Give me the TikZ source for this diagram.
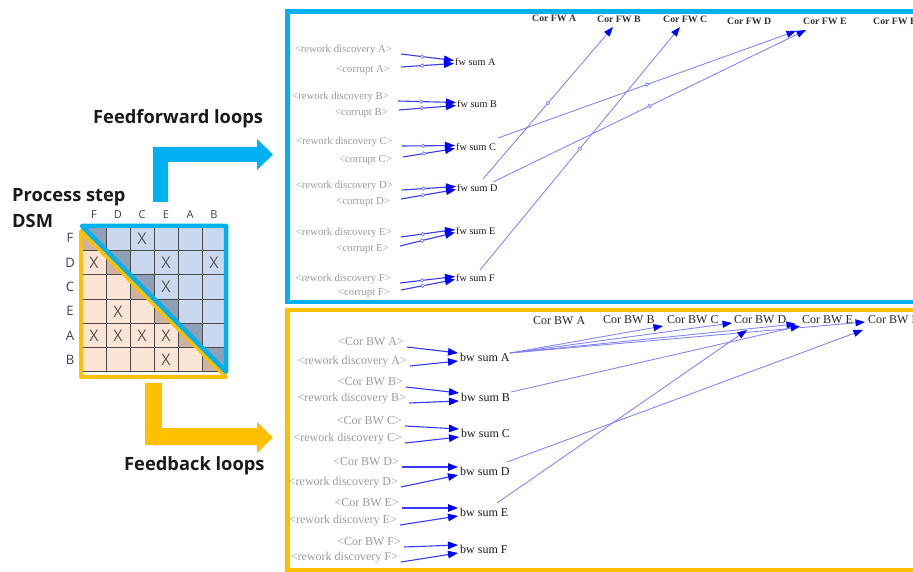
\documentclass[tikz,border=0pt]{standalone}
\usepackage{fontspec}
\setmainfont{Liberation Serif}
\newfontfamily\uisans{Open Sans}
\usetikzlibrary{arrows.meta,calc,decorations.markings}

\definecolor{ffblue}{HTML}{00B0F0}
\definecolor{fbgold}{HTML}{FFC000}
\definecolor{cellblue}{HTML}{C9D8EE}
\definecolor{cellpeach}{HTML}{FCE4D6}
\definecolor{diagblue}{HTML}{8E9FB8}
\definecolor{diagtan}{HTML}{CDB4A2}
\definecolor{gridline}{HTML}{4A4A4A}
\definecolor{linkblue}{HTML}{0000FF}
\definecolor{shadowgray}{HTML}{9A9A9A}

\tikzset{
  title/.style={font=\uisans\bfseries\fontsize{18.3}{21}\selectfont, text=black!90, inner sep=0, anchor=base west},
  dsmlab/.style={font=\uisans\fontsize{13}{15}\selectfont, text=black!75, inner sep=0},
  dsmhead/.style={font=\uisans\fontsize{11}{13}\selectfont, text=black!75, inner sep=0},
  xmark/.style={font=\uisans\fontsize{16}{18}\selectfont, text=black!65, inner sep=0},
  shadowvar/.style={anchor=east, inner sep=0, text=shadowgray, font=\fontsize{10.7}{12}\selectfont},
  sumvar/.style={anchor=west, inner sep=0, text=black!90, font=\fontsize{10.2}{12}\selectfont},
  corvar/.style={anchor=west, inner sep=0, text=black!80, font=\bfseries\fontsize{9.8}{12}\selectfont},
  shadowbig/.style={anchor=east, inner sep=0, text=shadowgray, font=\fontsize{12}{14}\selectfont},
  sumbig/.style={anchor=west, inner sep=0, text=black!90, font=\fontsize{12}{14}\selectfont},
  corbig/.style={anchor=west, inner sep=0, text=black!85, font=\fontsize{12}{14}\selectfont},
  link/.style={draw=linkblue!78!white, line width=1.1pt,
    -{Triangle[length=10pt,width=7.5pt,color=linkblue]}},
  longlink/.style={draw=linkblue!50!white, line width=0.85pt,
    -{Triangle[length=9.5pt,width=7pt,color=linkblue]}},
  valve at/.style={postaction={decorate}, decoration={markings,
    mark=at position #1 with {\draw[linkblue!60!white, fill=white, line width=0.6pt] (0,0) circle (1.8pt);}}},
}

\begin{document}
\begin{tikzpicture}[x=1pt, y=-1pt]
\useasboundingbox (0,0) rectangle (913,572);
\clip (0,0) rectangle (913,572);

% ---------- titles ----------
\node[title] (ptitle) at (12,202) {Process step};
\node[title] (dsmtitle) at (12,228) {DSM};
\node[title] (fftitle) at (93,124) {Feedforward loops};
\node[title] (fbtitle) at (124,470) {Feedback loops};

% ---------- big L-shaped arrows ----------
\fill[ffblue] (153,202) -- (153,147) -- (257,147) -- (257,139) -- (273,154.5)
  -- (257,170) -- (257,162) -- (168,162) -- (168,202) -- cycle;
\fill[fbgold] (145,383) -- (145,445) -- (257,445) -- (257,453) -- (273,437.5)
  -- (257,422) -- (257,428) -- (162,428) -- (162,383) -- cycle;

% ---------- process step DSM ----------
\def\gx{82}\def\gy{226}\def\gs{24}\def\gt{24.3}
\foreach \r in {0,...,5}{
  \foreach \c in {0,...,5}{
    \pgfmathsetmacro\xa{\gx+\c*\gs}
    \pgfmathsetmacro\xb{\gx+(\c+1)*\gs}
    \pgfmathsetmacro\ya{\gy+\r*\gt}
    \pgfmathsetmacro\yb{\gy+(\r+1)*\gt}
    \ifnum\c>\r \fill[cellblue] (\xa,\ya) rectangle (\xb,\yb);\fi
    \ifnum\c<\r \fill[cellpeach] (\xa,\ya) rectangle (\xb,\yb);\fi
    \ifnum\c=\r
      \fill[diagblue] (\xa,\ya) -- (\xb,\ya) -- (\xb,\yb) -- cycle;
      \fill[diagtan] (\xa,\ya) -- (\xa,\yb) -- (\xb,\yb) -- cycle;
    \fi
  }
}
\foreach \i in {0,...,6}{
  \pgfmathsetmacro\xa{\gx+\i*\gs}
  \pgfmathsetmacro\ya{\gy+\i*\gt}
  \draw[gridline, line width=0.7pt] (\xa,\gy) -- (\xa,\gy+6*\gt);
  \draw[gridline, line width=0.7pt] (\gx,\ya) -- (\gx+6*\gs,\ya);
}
% step names along both axes
\foreach \lab [count=\k from 0] in {F,D,C,E,A,B}{
  \node[dsmhead] (col\lab) at (\gx+\k*\gs+0.5*\gs,215) {\lab};
  \node[dsmlab] (row\lab) at (70,\gy+\k*\gt+0.5*\gt) {\lab};
}
% dependency marks (row, column)
\foreach \r/\c in {0/2, 1/0, 1/3, 1/5, 2/3, 3/1, 4/0, 4/1, 4/2, 4/3, 5/3}{
  \node[xmark] (x\r\c) at (\gx+\c*\gs+0.5*\gs,\gy+\r*\gt+0.5*\gt+0.5) {X};
}
% loop-type outlines
\draw[fbgold, line width=4pt, line join=round]
  (\gx-1,\gy+5) -- (\gx-1,\gy+6*\gt+5) -- (\gx+6*\gs,\gy+6*\gt+5) -- cycle;
\draw[ffblue, line width=4.5pt, line join=round]
  (\gx,\gy) -- (\gx+6*\gs,\gy) -- (\gx+6*\gs,\gy+6*\gt) -- cycle;

% ---------- panel frames ----------
\draw[ffblue, line width=4.5pt] (287.5,11.5) rectangle (960,302);
\draw[fbgold, line width=4.5pt] (287.5,310) rectangle (960,570);

% ---------- feedforward model ----------
\foreach \n/\rx/\ry/\cx/\cy/\sx/\sy in {
    A/392/50/390/70/455/62,
    B/389/97/388/113/457/104,
    C/393/142/392/160/456/147,
    D/393/186/390/202/457/188,
    E/392/233/389/249/456/231,
    F/391/279/390/293/456/278}{
  \node[shadowvar] (rw\n) at (\rx,\ry) {<rework discovery \n>};
  \node[shadowvar] (cr\n) at (\cx,\cy) {<corrupt \n>};
  \node[sumvar] (fw\n) at (\sx,\sy) {fw sum \n};
  \draw[link, valve at=0.4] ($(rw\n.east)+(9,4)$) -- ($(fw\n.west)+(-1,-1.5)$);
  \draw[link, valve at=0.4] ($(cr\n.east)+(11,-3)$) -- ($(fw\n.west)+(-1,1.5)$);
}
\foreach \n/\x/\y in {A/532/18, B/597/19, C/663/19, D/727/21, E/803/21, F/873/21}{
  \node[corvar] (cf\n) at (\x,\y) {Cor FW \n};
}
\draw[longlink, valve at=0.5] ($(fwD.west)+(26,-9)$) -- ($(cfB.west)+(16,8)$);
\draw[longlink, valve at=0.5] ($(fwF.west)+(24,-8)$) -- ($(cfC.west)+(17,8)$);
\draw[longlink, valve at=0.5] ($(fwC.west)+(42,-9)$) -- ($(cfE.west)+(-7,10)$);
\draw[longlink, valve at=0.5] ($(fwD.west)+(36,-6)$) -- ($(cfE.west)+(3,9)$);

% ---------- feedback model ----------
\foreach \n/\cx/\cy/\rx/\ry/\sx/\sy in {
    A/404/342/407/362/460/357,
    B/403/382/406/399/461/397,
    C/402/421/402/439/461/433,
    D/399/462/398/483/460/471,
    E/399/503/397/521/460/512,
    F/401/542/398/558/460/549}{
  \node[shadowbig] (ci\n) at (\cx,\cy) {<Cor BW \n>};
  \node[shadowbig] (rb\n) at (\rx,\ry) {<rework discovery \n>};
  \node[sumbig] (bw\n) at (\sx,\sy) {bw sum \n};
  \draw[link] ($(ci\n.east)+(3,5)$) -- ($(bw\n.west)+(-2,-4)$);
  \draw[link] ($(rb\n.east)+(3,4)$) -- ($(bw\n.west)+(-2,4)$);
}
\foreach \n/\x/\y in {A/533/321, B/603/320, C/667/320, D/734/320, E/802/320, F/868/320}{
  \node[corbig] (cb\n) at (\x,\y) {Cor BW \n};
}
\draw[longlink] ($(bwA.west)+(50,-4)$) -- ($(cbC.west)+(-4,6)$);
\draw[longlink] ($(bwA.west)+(50,-4)$) -- ($(cbD.west)+(-2,3)$);
\draw[longlink] ($(bwA.west)+(50,-4)$) -- ($(cbE.west)+(-6,4)$);
\draw[longlink] ($(bwA.west)+(50,-4)$) -- ($(cbF.west)+(-3,2)$);
\draw[longlink] ($(bwB.west)+(50,-5)$) -- ($(cbE.west)+(-2,6)$);
\draw[longlink] ($(bwD.west)+(47,-9)$) -- ($(cbF.west)+(-5,10)$);
\draw[longlink] ($(bwE.west)+(37,-9)$) -- ($(cbD.west)+(13,10)$);
\end{tikzpicture}
\end{document}
